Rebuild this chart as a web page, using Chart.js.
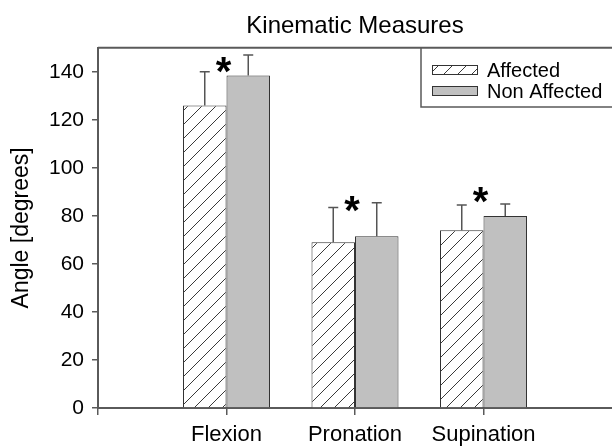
<!DOCTYPE html>
<html><head><meta charset="utf-8">
<script src="https://cdn.jsdelivr.net/npm/chart.js@4/dist/chart.umd.min.js"></script>
<style>html,body{margin:0;padding:0;background:#fff;}#wrap{width:612px;height:446px;}</style>
</head><body><div id="wrap"><canvas id="c" width="612" height="446"></canvas></div>
<script>
const categories = ['', 'Flexion', 'Pronation', 'Supination', ''];
const seriesNames = ['Affected', 'Non Affected'];
const affected = [null, 126, 69, 74, null];
const nonAffected = [null, 138.5, 71.5, 80, null];
const affectedErrTop = [null, 140, 83.5, 84.5, null];
const nonAffectedErrTop = [null, 147, 85.5, 85, null];
const starLevels = [null, 144, 86, 90, null];
const yTicks = [0, 20, 40, 60, 80, 100, 120, 140];

const FONT = '"Liberation Sans", Arial, sans-serif';
const AXIS = '#5a5a5a';

function makeHatch() {
  const s = 14;
  const c = document.createElement('canvas');
  c.width = s; c.height = s;
  const x = c.getContext('2d');
  x.fillStyle = '#ffffff';
  x.fillRect(0, 0, s, s);
  x.strokeStyle = '#3a3a3a';
  x.lineWidth = 1;
  x.beginPath();
  x.moveTo(0, s); x.lineTo(s, 0);
  x.moveTo(-s / 2, s / 2); x.lineTo(s / 2, -s / 2);
  x.moveTo(s / 2, s * 1.5); x.lineTo(s * 1.5, s / 2);
  x.stroke();
  return x.createPattern(c, 'repeat');
}
const hatch = makeHatch();

const extras = {
  id: 'extras',
  afterDatasetsDraw(chart) {
    const ctx = chart.ctx;
    const ys = chart.scales.y, xs = chart.scales.x;
    const area = chart.chartArea;
    ctx.save();
    // top frame line
    ctx.strokeStyle = AXIS; ctx.lineWidth = 2;
    ctx.beginPath(); ctx.moveTo(area.left, area.top); ctx.lineTo(chart.width, area.top); ctx.stroke();
    // error bars
    const errs = [affectedErrTop, nonAffectedErrTop];
    errs.forEach((arr, di) => {
      const meta = chart.getDatasetMeta(di);
      arr.forEach((v, i) => {
        if (v == null) return;
        const bar = meta.data[i];
        const yTop = ys.getPixelForValue(v);
        ctx.strokeStyle = '#555'; ctx.lineWidth = 1.5;
        ctx.beginPath();
        ctx.moveTo(bar.x, bar.y); ctx.lineTo(bar.x, yTop);
        ctx.moveTo(bar.x - 5, yTop); ctx.lineTo(bar.x + 5, yTop);
        ctx.stroke();
      });
    });
    // significance stars
    ctx.fillStyle = '#000';
    ctx.font = 'bold 40px ' + FONT;
    ctx.textAlign = 'center'; ctx.textBaseline = 'alphabetic';
    starLevels.forEach((v, i) => {
      if (v == null) return;
      const x = xs.getPixelForValue(i);
      const y = ys.getPixelForValue(v);
      ctx.fillText('*', x - 3, y + 40 * 0.57);
    });
    // legend
    const lx = 421, ly = 107;
    ctx.strokeStyle = AXIS; ctx.lineWidth = 1.5;
    ctx.beginPath(); ctx.moveTo(lx, area.top); ctx.lineTo(lx, ly); ctx.lineTo(chart.width, ly); ctx.stroke();
    const rows = [70, 91];
    chart.data.datasets.forEach((ds, di) => {
      const cy = rows[di];
      ctx.fillStyle = ds.backgroundColor;
      ctx.fillRect(432, cy - 4.5, 45, 9);
      ctx.strokeStyle = '#333'; ctx.lineWidth = 1;
      ctx.strokeRect(432.5, cy - 4.5, 45, 9);
      ctx.fillStyle = '#000';
      ctx.font = '20px ' + FONT;
      ctx.textAlign = 'left'; ctx.textBaseline = 'middle';
      ctx.fillText(ds.label, 487, cy + 1);
    });
    ctx.restore();
  }
};

new Chart(document.getElementById('c'), {
  type: 'bar',
  data: {
    labels: categories,
    datasets: [
      { label: seriesNames[0], data: affected, backgroundColor: hatch, borderColor: '#333', borderWidth: 1 },
      { label: seriesNames[1], data: nonAffected, backgroundColor: '#c0c0c0', borderColor: '#333', borderWidth: 1 }
    ]
  },
  options: {
    responsive: false,
    animation: false,
    devicePixelRatio: 1,
    layout: { padding: { left: 0, right: 0, top: 0, bottom: 0 } },
    datasets: { bar: { barPercentage: 1, categoryPercentage: 0.677, grouped: true } },
    plugins: {
      legend: { display: false },
      tooltip: { enabled: false },
      title: {
        display: true, text: 'Kinematic Measures', color: '#000', fullSize: false,
        font: { family: FONT, size: 24, weight: 'normal' },
        padding: { top: 12, bottom: 7 }
      }
    },
    scales: {
      x: {
        offset: false,
        grid: { display: true, drawOnChartArea: false, offset: false, tickLength: 7,
                color: (c) => (c.index === 4 ? 'rgba(0,0,0,0)' : AXIS), lineWidth: 1.5 },
        border: { color: AXIS, width: 2 },
        ticks: { color: '#000', font: { family: FONT, size: 22 }, padding: 7, maxRotation: 0, autoSkip: false },
        afterFit: (s) => { s.height = 38; s.paddingRight = 0; s.paddingLeft = 0; }
      },
      y: {
        min: 0, max: 150,
        afterBuildTicks: (s) => { s.ticks = yTicks.map(v => ({ value: v })); },
        grid: { display: true, drawOnChartArea: false, tickLength: 6, color: AXIS, lineWidth: 1.5 },
        border: { color: AXIS, width: 2 },
        ticks: { color: '#000', font: { family: FONT, size: 21 }, padding: 8 },
        title: { display: true, text: 'Angle [degrees]', color: '#000', font: { family: FONT, size: 23 }, padding: { top: 8, bottom: 0 } },
        afterFit: (s) => { s.width = 98; }
      }
    }
  },
  plugins: [extras]
});
</script>
</body></html>
